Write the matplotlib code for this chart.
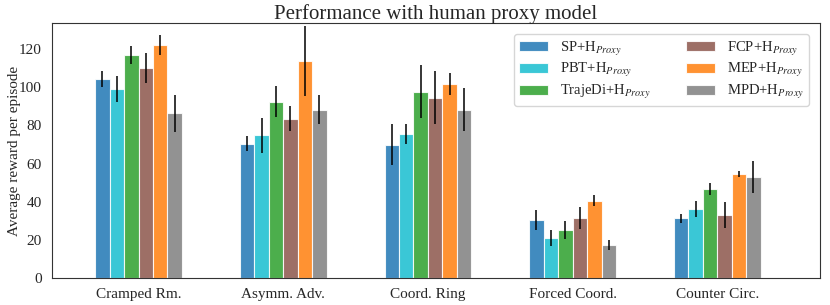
import numpy as np
import matplotlib.pyplot as plt
import seaborn as sns

sns.set_style('white')
plt.rcParams['font.family'] = ['Liberation Serif', 'DejaVu Serif']
plt.rcParams['mathtext.fontset'] = 'stix'

# 场景与方法
layouts = ['Cramped Rm.', 'Asymm. Adv.', 'Coord. Ring', 'Forced Coord.', 'Counter Circ.']
methods = ['SP', 'PBT', 'TrajeDi', 'FCP', 'MEP', 'MPD']
colors = ['tab:blue', 'tab:cyan', 'tab:green', 'tab:brown', 'tab:orange', 'tab:gray']

# 每个方法在各场景下的平均回报及误差
sp_mean = [104.1, 70.3, 69.9, 30.5, 31.4]
sp_err = [4.2, 3.9, 10.7, 5.1, 2.5]
pbt_mean = [98.9, 74.8, 75.3, 21.1, 36.1]
pbt_err = [6.8, 9.3, 5.2, 4.1, 4.2]
trajedi_mean = [116.7, 92.4, 97.6, 25.3, 46.9]
trajedi_err = [4.7, 8.0, 13.8, 4.6, 3.1]
fcp_mean = [110.0, 83.4, 94.5, 31.4, 33.0]
fcp_err = [7.8, 6.5, 14.0, 5.7, 6.8]
mep_mean = [122.1, 113.6, 101.7, 40.5, 54.6]
mep_err = [5.3, 18.3, 5.7, 2.9, 1.5]
mpd_mean = [86.3, 88.1, 88.1, 17.3, 52.9]
mpd_err = [9.8, 7.6, 11.2, 2.6, 8.5]

means = [sp_mean, pbt_mean, trajedi_mean, fcp_mean, mep_mean, mpd_mean]
errs = [sp_err, pbt_err, trajedi_err, fcp_err, mep_err, mpd_err]

fig = plt.figure(figsize=(8.3, 3.05), dpi=100)
ax = fig.add_axes([0.0623, 0.0875, 0.9257, 0.8361])

x = np.arange(len(layouts))
width = 0.1
for i, m in enumerate(methods):
    pos = x + (i - 2.5) * width
    ax.bar(pos, means[i], width, color=colors[i], alpha=0.85,
           edgecolor='white', linewidth=0.8,
           label=m + r'+H$_{Proxy}$')
    ax.errorbar(pos, means[i], yerr=errs[i], fmt='none', ecolor='black',
                elinewidth=1.1, capsize=0)

ax.set_xticks(x)
ax.set_xticklabels(layouts, fontsize=11)
ax.tick_params(axis='y', labelsize=11)
ax.set_xlim(-0.6, 4.71)
ax.set_ylim(0, 133.4)
ax.set_ylabel('Average reward per episode', fontsize=11)
ax.yaxis.set_label_coords(-0.040, 0.5)
ax.set_title('Performance with human proxy model', fontsize=15, pad=3)
for s in ax.spines.values():
    s.set_color('#333333')
ax.legend(ncol=2, loc='upper right', fontsize=10.5, columnspacing=2.4,
          handlelength=2.0, labelspacing=0.25, borderpad=0.35,
          frameon=True, bbox_to_anchor=(0.995, 0.985))

plt.savefig('out.png', dpi=100, facecolor='white')
